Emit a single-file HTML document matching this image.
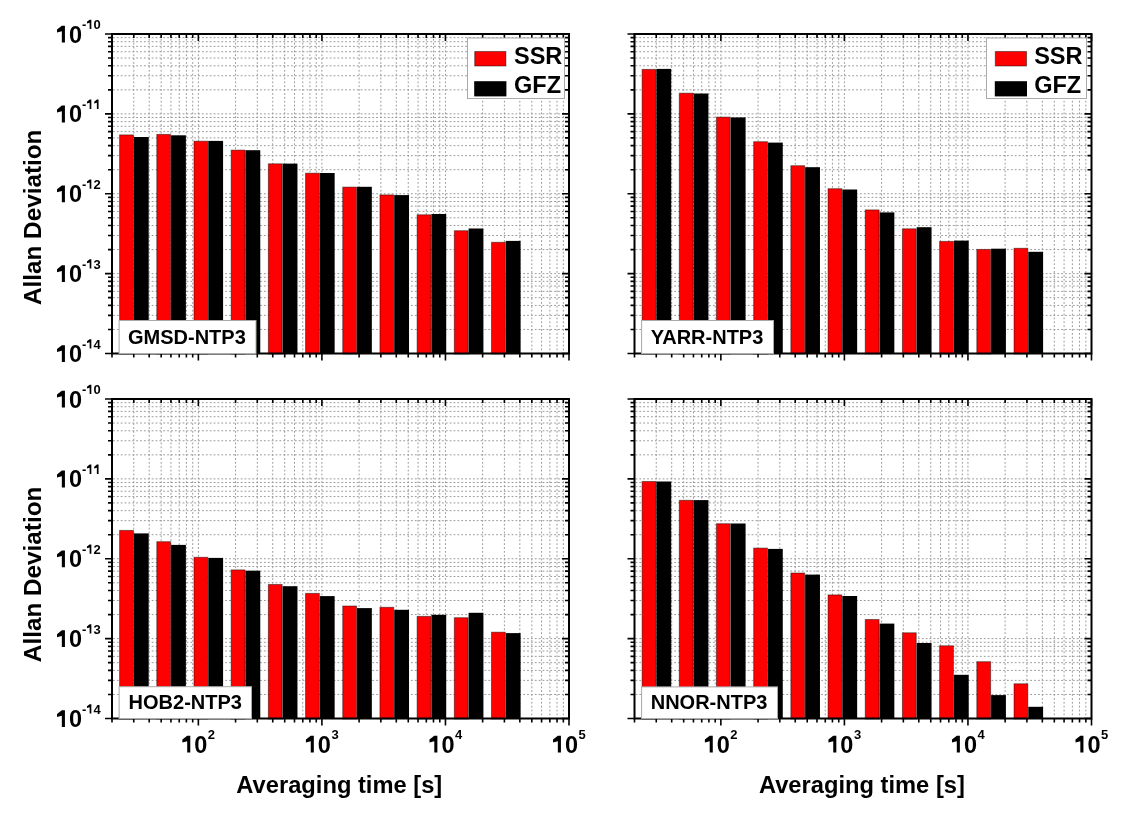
<!DOCTYPE html>
<html><head><meta charset="utf-8"><style>html,body{margin:0;padding:0;background:#fff;}body{width:1124px;height:821px;overflow:hidden;}svg{display:block;}</style></head><body>
<svg width="1124" height="821" viewBox="0 0 1124 821" font-family='"Liberation Sans", sans-serif' font-weight="bold" fill="#000">
<rect width="1124" height="821" fill="#fff"/>
<path d="M133.76 35V352.5M149.19 35V352.5M161.16 35V352.5M170.95 35V352.5M179.22 35V352.5M186.38 35V352.5M192.7 35V352.5M198.36 35V352.5M235.55 35V352.5M257.3 35V352.5M272.74 35V352.5M284.71 35V352.5M294.5 35V352.5M302.77 35V352.5M309.93 35V352.5M316.25 35V352.5M321.9 35V352.5M359.1 35V352.5M380.85 35V352.5M396.29 35V352.5M408.26 35V352.5M418.04 35V352.5M426.31 35V352.5M433.48 35V352.5M439.8 35V352.5M445.45 35V352.5M482.64 35V352.5M504.4 35V352.5M519.84 35V352.5M531.81 35V352.5M541.59 35V352.5M549.86 35V352.5M557.03 35V352.5M563.35 35V352.5" stroke="#999999" stroke-width="1" stroke-dasharray="1.8 2.07" fill="none"/>
<path d="M113 329.46H568M113 315.39H568M113 305.41H568M113 297.67H568M113 291.35H568M113 286H568M113 281.37H568M113 277.28H568M113 273.62H568M113 249.58H568M113 235.51H568M113 225.54H568M113 217.79H568M113 211.47H568M113 206.12H568M113 201.49H568M113 197.4H568M113 193.75H568M113 169.71H568M113 155.64H568M113 145.66H568M113 137.92H568M113 131.6H568M113 126.25H568M113 121.62H568M113 117.53H568M113 113.88H568M113 89.83H568M113 75.76H568M113 65.79H568M113 58.04H568M113 51.72H568M113 46.37H568M113 41.74H568M113 37.65H568" stroke="#999999" stroke-width="1" stroke-dasharray="1.8 2.07" fill="none"/>
<rect x="119.6" y="134.9" width="13.8" height="219.1" fill="#fe0000" stroke="#000" stroke-opacity="0.45" stroke-width="1"/>
<rect x="133.9" y="137" width="14.8" height="216.5" fill="#000"/>
<rect x="156.79" y="134.4" width="13.8" height="219.6" fill="#fe0000" stroke="#000" stroke-opacity="0.45" stroke-width="1"/>
<rect x="171.09" y="135.3" width="14.8" height="218.2" fill="#000"/>
<rect x="193.98" y="141.2" width="13.8" height="212.8" fill="#fe0000" stroke="#000" stroke-opacity="0.45" stroke-width="1"/>
<rect x="208.28" y="140.9" width="14.8" height="212.6" fill="#000"/>
<rect x="231.17" y="150.1" width="13.8" height="203.9" fill="#fe0000" stroke="#000" stroke-opacity="0.45" stroke-width="1"/>
<rect x="245.47" y="150.2" width="14.8" height="203.3" fill="#000"/>
<rect x="268.36" y="163.8" width="13.8" height="190.2" fill="#fe0000" stroke="#000" stroke-opacity="0.45" stroke-width="1"/>
<rect x="282.66" y="163.6" width="14.8" height="189.9" fill="#000"/>
<rect x="305.55" y="173.2" width="13.8" height="180.8" fill="#fe0000" stroke="#000" stroke-opacity="0.45" stroke-width="1"/>
<rect x="319.85" y="173" width="14.8" height="180.5" fill="#000"/>
<rect x="342.74" y="187.1" width="13.8" height="166.9" fill="#fe0000" stroke="#000" stroke-opacity="0.45" stroke-width="1"/>
<rect x="357.04" y="186.8" width="14.8" height="166.7" fill="#000"/>
<rect x="379.93" y="194.9" width="13.8" height="159.1" fill="#fe0000" stroke="#000" stroke-opacity="0.45" stroke-width="1"/>
<rect x="394.23" y="195.1" width="14.8" height="158.4" fill="#000"/>
<rect x="417.12" y="214.8" width="13.8" height="139.2" fill="#fe0000" stroke="#000" stroke-opacity="0.45" stroke-width="1"/>
<rect x="431.42" y="214" width="14.8" height="139.5" fill="#000"/>
<rect x="454.31" y="230.7" width="13.8" height="123.3" fill="#fe0000" stroke="#000" stroke-opacity="0.45" stroke-width="1"/>
<rect x="468.61" y="228.5" width="14.8" height="125" fill="#000"/>
<rect x="491.5" y="242.3" width="13.8" height="111.7" fill="#fe0000" stroke="#000" stroke-opacity="0.45" stroke-width="1"/>
<rect x="505.8" y="240.9" width="14.8" height="112.6" fill="#000"/>
<path d="M105 353.5H112M569 353.5H562M108 329.46H112M569 329.46H565M108 315.39H112M569 315.39H565M108 305.41H112M569 305.41H565M108 297.67H112M569 297.67H565M108 291.35H112M569 291.35H565M108 286H112M569 286H565M108 281.37H112M569 281.37H565M108 277.28H112M569 277.28H565M105 273.62H112M569 273.62H562M108 249.58H112M569 249.58H565M108 235.51H112M569 235.51H565M108 225.54H112M569 225.54H565M108 217.79H112M569 217.79H565M108 211.47H112M569 211.47H565M108 206.12H112M569 206.12H565M108 201.49H112M569 201.49H565M108 197.4H112M569 197.4H565M105 193.75H112M569 193.75H562M108 169.71H112M569 169.71H565M108 155.64H112M569 155.64H565M108 145.66H112M569 145.66H565M108 137.92H112M569 137.92H565M108 131.6H112M569 131.6H565M108 126.25H112M569 126.25H565M108 121.62H112M569 121.62H565M108 117.53H112M569 117.53H565M105 113.88H112M569 113.88H562M108 89.83H112M569 89.83H565M108 75.76H112M569 75.76H565M108 65.79H112M569 65.79H565M108 58.04H112M569 58.04H565M108 51.72H112M569 51.72H565M108 46.37H112M569 46.37H565M108 41.74H112M569 41.74H565M108 37.65H112M569 37.65H565M105 34H112M569 34H562M112 353.5V357.5M112 34V38M133.76 353.5V357.5M133.76 34V38M149.19 353.5V357.5M149.19 34V38M161.16 353.5V357.5M161.16 34V38M170.95 353.5V357.5M170.95 34V38M179.22 353.5V357.5M179.22 34V38M186.38 353.5V357.5M186.38 34V38M192.7 353.5V357.5M192.7 34V38M198.36 353.5V360.5M198.36 34V41M235.55 353.5V357.5M235.55 34V38M257.3 353.5V357.5M257.3 34V38M272.74 353.5V357.5M272.74 34V38M284.71 353.5V357.5M284.71 34V38M294.5 353.5V357.5M294.5 34V38M302.77 353.5V357.5M302.77 34V38M309.93 353.5V357.5M309.93 34V38M316.25 353.5V357.5M316.25 34V38M321.9 353.5V360.5M321.9 34V41M359.1 353.5V357.5M359.1 34V38M380.85 353.5V357.5M380.85 34V38M396.29 353.5V357.5M396.29 34V38M408.26 353.5V357.5M408.26 34V38M418.04 353.5V357.5M418.04 34V38M426.31 353.5V357.5M426.31 34V38M433.48 353.5V357.5M433.48 34V38M439.8 353.5V357.5M439.8 34V38M445.45 353.5V360.5M445.45 34V41M482.64 353.5V357.5M482.64 34V38M504.4 353.5V357.5M504.4 34V38M519.84 353.5V357.5M519.84 34V38M531.81 353.5V357.5M531.81 34V38M541.59 353.5V357.5M541.59 34V38M549.86 353.5V357.5M549.86 34V38M557.03 353.5V357.5M557.03 34V38M563.35 353.5V357.5M563.35 34V38M569 353.5V360.5M569 34V41" stroke="#000" stroke-width="1.6" fill="none"/>
<rect x="112" y="34" width="457" height="319.5" fill="none" stroke="#000" stroke-width="2"/>
<rect x="119.1" y="320.5" width="136.9" height="33" fill="#fff" stroke="#aaa" stroke-width="1"/>
<rect x="467.5" y="38" width="97" height="60.5" fill="#fff" stroke="#aaa" stroke-width="1"/>
<rect x="474.7" y="51.5" width="31.2" height="14.5" fill="#fe0000" stroke="#000" stroke-opacity="0.45" stroke-width="1"/>
<rect x="474.2" y="81.2" width="32.2" height="15.2" fill="#000"/>
<path d="M656.26 35V352.5M671.69 35V352.5M683.66 35V352.5M693.45 35V352.5M701.72 35V352.5M708.88 35V352.5M715.2 35V352.5M720.86 35V352.5M758.05 35V352.5M779.8 35V352.5M795.24 35V352.5M807.21 35V352.5M817 35V352.5M825.27 35V352.5M832.43 35V352.5M838.75 35V352.5M844.4 35V352.5M881.6 35V352.5M903.35 35V352.5M918.79 35V352.5M930.76 35V352.5M940.54 35V352.5M948.81 35V352.5M955.98 35V352.5M962.3 35V352.5M967.95 35V352.5M1005.14 35V352.5M1026.9 35V352.5M1042.34 35V352.5M1054.31 35V352.5M1064.09 35V352.5M1072.36 35V352.5M1079.53 35V352.5M1085.85 35V352.5" stroke="#999999" stroke-width="1" stroke-dasharray="1.8 2.07" fill="none"/>
<path d="M635.5 329.46H1090.5M635.5 315.39H1090.5M635.5 305.41H1090.5M635.5 297.67H1090.5M635.5 291.35H1090.5M635.5 286H1090.5M635.5 281.37H1090.5M635.5 277.28H1090.5M635.5 273.62H1090.5M635.5 249.58H1090.5M635.5 235.51H1090.5M635.5 225.54H1090.5M635.5 217.79H1090.5M635.5 211.47H1090.5M635.5 206.12H1090.5M635.5 201.49H1090.5M635.5 197.4H1090.5M635.5 193.75H1090.5M635.5 169.71H1090.5M635.5 155.64H1090.5M635.5 145.66H1090.5M635.5 137.92H1090.5M635.5 131.6H1090.5M635.5 126.25H1090.5M635.5 121.62H1090.5M635.5 117.53H1090.5M635.5 113.88H1090.5M635.5 89.83H1090.5M635.5 75.76H1090.5M635.5 65.79H1090.5M635.5 58.04H1090.5M635.5 51.72H1090.5M635.5 46.37H1090.5M635.5 41.74H1090.5M635.5 37.65H1090.5" stroke="#999999" stroke-width="1" stroke-dasharray="1.8 2.07" fill="none"/>
<rect x="642.1" y="69.4" width="13.8" height="284.6" fill="#fe0000" stroke="#000" stroke-opacity="0.45" stroke-width="1"/>
<rect x="656.4" y="68.9" width="14.8" height="284.6" fill="#000"/>
<rect x="679.29" y="93.2" width="13.8" height="260.8" fill="#fe0000" stroke="#000" stroke-opacity="0.45" stroke-width="1"/>
<rect x="693.59" y="93.5" width="14.8" height="260" fill="#000"/>
<rect x="716.48" y="117.1" width="13.8" height="236.9" fill="#fe0000" stroke="#000" stroke-opacity="0.45" stroke-width="1"/>
<rect x="730.78" y="117.4" width="14.8" height="236.1" fill="#000"/>
<rect x="753.67" y="141.7" width="13.8" height="212.3" fill="#fe0000" stroke="#000" stroke-opacity="0.45" stroke-width="1"/>
<rect x="767.97" y="142.6" width="14.8" height="210.9" fill="#000"/>
<rect x="790.86" y="165.7" width="13.8" height="188.3" fill="#fe0000" stroke="#000" stroke-opacity="0.45" stroke-width="1"/>
<rect x="805.16" y="167.2" width="14.8" height="186.3" fill="#000"/>
<rect x="828.05" y="188.7" width="13.8" height="165.3" fill="#fe0000" stroke="#000" stroke-opacity="0.45" stroke-width="1"/>
<rect x="842.35" y="189.5" width="14.8" height="164" fill="#000"/>
<rect x="865.24" y="209.9" width="13.8" height="144.1" fill="#fe0000" stroke="#000" stroke-opacity="0.45" stroke-width="1"/>
<rect x="879.54" y="212.4" width="14.8" height="141.1" fill="#000"/>
<rect x="902.43" y="228.8" width="13.8" height="125.2" fill="#fe0000" stroke="#000" stroke-opacity="0.45" stroke-width="1"/>
<rect x="916.73" y="227.2" width="14.8" height="126.3" fill="#000"/>
<rect x="939.62" y="241.4" width="13.8" height="112.6" fill="#fe0000" stroke="#000" stroke-opacity="0.45" stroke-width="1"/>
<rect x="953.92" y="240.6" width="14.8" height="112.9" fill="#000"/>
<rect x="976.81" y="249.4" width="13.8" height="104.6" fill="#fe0000" stroke="#000" stroke-opacity="0.45" stroke-width="1"/>
<rect x="991.11" y="248.7" width="14.8" height="104.8" fill="#000"/>
<rect x="1014" y="248.3" width="13.8" height="105.7" fill="#fe0000" stroke="#000" stroke-opacity="0.45" stroke-width="1"/>
<rect x="1028.3" y="251.8" width="14.8" height="101.7" fill="#000"/>
<path d="M627.5 353.5H634.5M1091.5 353.5H1084.5M630.5 329.46H634.5M1091.5 329.46H1087.5M630.5 315.39H634.5M1091.5 315.39H1087.5M630.5 305.41H634.5M1091.5 305.41H1087.5M630.5 297.67H634.5M1091.5 297.67H1087.5M630.5 291.35H634.5M1091.5 291.35H1087.5M630.5 286H634.5M1091.5 286H1087.5M630.5 281.37H634.5M1091.5 281.37H1087.5M630.5 277.28H634.5M1091.5 277.28H1087.5M627.5 273.62H634.5M1091.5 273.62H1084.5M630.5 249.58H634.5M1091.5 249.58H1087.5M630.5 235.51H634.5M1091.5 235.51H1087.5M630.5 225.54H634.5M1091.5 225.54H1087.5M630.5 217.79H634.5M1091.5 217.79H1087.5M630.5 211.47H634.5M1091.5 211.47H1087.5M630.5 206.12H634.5M1091.5 206.12H1087.5M630.5 201.49H634.5M1091.5 201.49H1087.5M630.5 197.4H634.5M1091.5 197.4H1087.5M627.5 193.75H634.5M1091.5 193.75H1084.5M630.5 169.71H634.5M1091.5 169.71H1087.5M630.5 155.64H634.5M1091.5 155.64H1087.5M630.5 145.66H634.5M1091.5 145.66H1087.5M630.5 137.92H634.5M1091.5 137.92H1087.5M630.5 131.6H634.5M1091.5 131.6H1087.5M630.5 126.25H634.5M1091.5 126.25H1087.5M630.5 121.62H634.5M1091.5 121.62H1087.5M630.5 117.53H634.5M1091.5 117.53H1087.5M627.5 113.88H634.5M1091.5 113.88H1084.5M630.5 89.83H634.5M1091.5 89.83H1087.5M630.5 75.76H634.5M1091.5 75.76H1087.5M630.5 65.79H634.5M1091.5 65.79H1087.5M630.5 58.04H634.5M1091.5 58.04H1087.5M630.5 51.72H634.5M1091.5 51.72H1087.5M630.5 46.37H634.5M1091.5 46.37H1087.5M630.5 41.74H634.5M1091.5 41.74H1087.5M630.5 37.65H634.5M1091.5 37.65H1087.5M627.5 34H634.5M1091.5 34H1084.5M634.5 353.5V357.5M634.5 34V38M656.26 353.5V357.5M656.26 34V38M671.69 353.5V357.5M671.69 34V38M683.66 353.5V357.5M683.66 34V38M693.45 353.5V357.5M693.45 34V38M701.72 353.5V357.5M701.72 34V38M708.88 353.5V357.5M708.88 34V38M715.2 353.5V357.5M715.2 34V38M720.86 353.5V360.5M720.86 34V41M758.05 353.5V357.5M758.05 34V38M779.8 353.5V357.5M779.8 34V38M795.24 353.5V357.5M795.24 34V38M807.21 353.5V357.5M807.21 34V38M817 353.5V357.5M817 34V38M825.27 353.5V357.5M825.27 34V38M832.43 353.5V357.5M832.43 34V38M838.75 353.5V357.5M838.75 34V38M844.4 353.5V360.5M844.4 34V41M881.6 353.5V357.5M881.6 34V38M903.35 353.5V357.5M903.35 34V38M918.79 353.5V357.5M918.79 34V38M930.76 353.5V357.5M930.76 34V38M940.54 353.5V357.5M940.54 34V38M948.81 353.5V357.5M948.81 34V38M955.98 353.5V357.5M955.98 34V38M962.3 353.5V357.5M962.3 34V38M967.95 353.5V360.5M967.95 34V41M1005.14 353.5V357.5M1005.14 34V38M1026.9 353.5V357.5M1026.9 34V38M1042.34 353.5V357.5M1042.34 34V38M1054.31 353.5V357.5M1054.31 34V38M1064.09 353.5V357.5M1064.09 34V38M1072.36 353.5V357.5M1072.36 34V38M1079.53 353.5V357.5M1079.53 34V38M1085.85 353.5V357.5M1085.85 34V38M1091.5 353.5V360.5M1091.5 34V41" stroke="#000" stroke-width="1.6" fill="none"/>
<rect x="634.5" y="34" width="457" height="319.5" fill="none" stroke="#000" stroke-width="2"/>
<rect x="641.6" y="320.5" width="131.9" height="33" fill="#fff" stroke="#aaa" stroke-width="1"/>
<rect x="986.5" y="38" width="100" height="60.5" fill="#fff" stroke="#aaa" stroke-width="1"/>
<rect x="995.3" y="51.5" width="31.2" height="14.5" fill="#fe0000" stroke="#000" stroke-opacity="0.45" stroke-width="1"/>
<rect x="994.8" y="81.2" width="32.2" height="15.2" fill="#000"/>
<path d="M133.76 400V717.5M149.19 400V717.5M161.16 400V717.5M170.95 400V717.5M179.22 400V717.5M186.38 400V717.5M192.7 400V717.5M198.36 400V717.5M235.55 400V717.5M257.3 400V717.5M272.74 400V717.5M284.71 400V717.5M294.5 400V717.5M302.77 400V717.5M309.93 400V717.5M316.25 400V717.5M321.9 400V717.5M359.1 400V717.5M380.85 400V717.5M396.29 400V717.5M408.26 400V717.5M418.04 400V717.5M426.31 400V717.5M433.48 400V717.5M439.8 400V717.5M445.45 400V717.5M482.64 400V717.5M504.4 400V717.5M519.84 400V717.5M531.81 400V717.5M541.59 400V717.5M549.86 400V717.5M557.03 400V717.5M563.35 400V717.5" stroke="#999999" stroke-width="1" stroke-dasharray="1.8 2.07" fill="none"/>
<path d="M113 694.46H568M113 680.39H568M113 670.41H568M113 662.67H568M113 656.35H568M113 651H568M113 646.37H568M113 642.28H568M113 638.62H568M113 614.58H568M113 600.51H568M113 590.54H568M113 582.79H568M113 576.47H568M113 571.12H568M113 566.49H568M113 562.4H568M113 558.75H568M113 534.71H568M113 520.64H568M113 510.66H568M113 502.92H568M113 496.6H568M113 491.25H568M113 486.62H568M113 482.53H568M113 478.88H568M113 454.83H568M113 440.76H568M113 430.79H568M113 423.04H568M113 416.72H568M113 411.37H568M113 406.74H568M113 402.65H568" stroke="#999999" stroke-width="1" stroke-dasharray="1.8 2.07" fill="none"/>
<rect x="119.6" y="530.4" width="13.8" height="188.6" fill="#fe0000" stroke="#000" stroke-opacity="0.45" stroke-width="1"/>
<rect x="133.9" y="533.4" width="14.8" height="185.1" fill="#000"/>
<rect x="156.79" y="541.7" width="13.8" height="177.3" fill="#fe0000" stroke="#000" stroke-opacity="0.45" stroke-width="1"/>
<rect x="171.09" y="544.9" width="14.8" height="173.6" fill="#000"/>
<rect x="193.98" y="557.3" width="13.8" height="161.7" fill="#fe0000" stroke="#000" stroke-opacity="0.45" stroke-width="1"/>
<rect x="208.28" y="557.9" width="14.8" height="160.6" fill="#000"/>
<rect x="231.17" y="569.9" width="13.8" height="149.1" fill="#fe0000" stroke="#000" stroke-opacity="0.45" stroke-width="1"/>
<rect x="245.47" y="570.7" width="14.8" height="147.8" fill="#000"/>
<rect x="268.36" y="584.5" width="13.8" height="134.5" fill="#fe0000" stroke="#000" stroke-opacity="0.45" stroke-width="1"/>
<rect x="282.66" y="586.2" width="14.8" height="132.3" fill="#000"/>
<rect x="305.55" y="593.4" width="13.8" height="125.6" fill="#fe0000" stroke="#000" stroke-opacity="0.45" stroke-width="1"/>
<rect x="319.85" y="596.1" width="14.8" height="122.4" fill="#000"/>
<rect x="342.74" y="606" width="13.8" height="113" fill="#fe0000" stroke="#000" stroke-opacity="0.45" stroke-width="1"/>
<rect x="357.04" y="608.1" width="14.8" height="110.4" fill="#000"/>
<rect x="379.93" y="607.3" width="13.8" height="111.7" fill="#fe0000" stroke="#000" stroke-opacity="0.45" stroke-width="1"/>
<rect x="394.23" y="609.8" width="14.8" height="108.7" fill="#000"/>
<rect x="417.12" y="616.4" width="13.8" height="102.6" fill="#fe0000" stroke="#000" stroke-opacity="0.45" stroke-width="1"/>
<rect x="431.42" y="614.8" width="14.8" height="103.7" fill="#000"/>
<rect x="454.31" y="617.7" width="13.8" height="101.3" fill="#fe0000" stroke="#000" stroke-opacity="0.45" stroke-width="1"/>
<rect x="468.61" y="612.8" width="14.8" height="105.7" fill="#000"/>
<rect x="491.5" y="632.2" width="13.8" height="86.8" fill="#fe0000" stroke="#000" stroke-opacity="0.45" stroke-width="1"/>
<rect x="505.8" y="633.1" width="14.8" height="85.4" fill="#000"/>
<path d="M105 718.5H112M569 718.5H562M108 694.46H112M569 694.46H565M108 680.39H112M569 680.39H565M108 670.41H112M569 670.41H565M108 662.67H112M569 662.67H565M108 656.35H112M569 656.35H565M108 651H112M569 651H565M108 646.37H112M569 646.37H565M108 642.28H112M569 642.28H565M105 638.62H112M569 638.62H562M108 614.58H112M569 614.58H565M108 600.51H112M569 600.51H565M108 590.54H112M569 590.54H565M108 582.79H112M569 582.79H565M108 576.47H112M569 576.47H565M108 571.12H112M569 571.12H565M108 566.49H112M569 566.49H565M108 562.4H112M569 562.4H565M105 558.75H112M569 558.75H562M108 534.71H112M569 534.71H565M108 520.64H112M569 520.64H565M108 510.66H112M569 510.66H565M108 502.92H112M569 502.92H565M108 496.6H112M569 496.6H565M108 491.25H112M569 491.25H565M108 486.62H112M569 486.62H565M108 482.53H112M569 482.53H565M105 478.88H112M569 478.88H562M108 454.83H112M569 454.83H565M108 440.76H112M569 440.76H565M108 430.79H112M569 430.79H565M108 423.04H112M569 423.04H565M108 416.72H112M569 416.72H565M108 411.37H112M569 411.37H565M108 406.74H112M569 406.74H565M108 402.65H112M569 402.65H565M105 399H112M569 399H562M112 718.5V722.5M112 399V403M133.76 718.5V722.5M133.76 399V403M149.19 718.5V722.5M149.19 399V403M161.16 718.5V722.5M161.16 399V403M170.95 718.5V722.5M170.95 399V403M179.22 718.5V722.5M179.22 399V403M186.38 718.5V722.5M186.38 399V403M192.7 718.5V722.5M192.7 399V403M198.36 718.5V725.5M198.36 399V406M235.55 718.5V722.5M235.55 399V403M257.3 718.5V722.5M257.3 399V403M272.74 718.5V722.5M272.74 399V403M284.71 718.5V722.5M284.71 399V403M294.5 718.5V722.5M294.5 399V403M302.77 718.5V722.5M302.77 399V403M309.93 718.5V722.5M309.93 399V403M316.25 718.5V722.5M316.25 399V403M321.9 718.5V725.5M321.9 399V406M359.1 718.5V722.5M359.1 399V403M380.85 718.5V722.5M380.85 399V403M396.29 718.5V722.5M396.29 399V403M408.26 718.5V722.5M408.26 399V403M418.04 718.5V722.5M418.04 399V403M426.31 718.5V722.5M426.31 399V403M433.48 718.5V722.5M433.48 399V403M439.8 718.5V722.5M439.8 399V403M445.45 718.5V725.5M445.45 399V406M482.64 718.5V722.5M482.64 399V403M504.4 718.5V722.5M504.4 399V403M519.84 718.5V722.5M519.84 399V403M531.81 718.5V722.5M531.81 399V403M541.59 718.5V722.5M541.59 399V403M549.86 718.5V722.5M549.86 399V403M557.03 718.5V722.5M557.03 399V403M563.35 718.5V722.5M563.35 399V403M569 718.5V725.5M569 399V406" stroke="#000" stroke-width="1.6" fill="none"/>
<rect x="112" y="399" width="457" height="319.5" fill="none" stroke="#000" stroke-width="2"/>
<rect x="119.1" y="686.7" width="132.4" height="31.8" fill="#fff" stroke="#aaa" stroke-width="1"/>
<path d="M656.26 400V717.5M671.69 400V717.5M683.66 400V717.5M693.45 400V717.5M701.72 400V717.5M708.88 400V717.5M715.2 400V717.5M720.86 400V717.5M758.05 400V717.5M779.8 400V717.5M795.24 400V717.5M807.21 400V717.5M817 400V717.5M825.27 400V717.5M832.43 400V717.5M838.75 400V717.5M844.4 400V717.5M881.6 400V717.5M903.35 400V717.5M918.79 400V717.5M930.76 400V717.5M940.54 400V717.5M948.81 400V717.5M955.98 400V717.5M962.3 400V717.5M967.95 400V717.5M1005.14 400V717.5M1026.9 400V717.5M1042.34 400V717.5M1054.31 400V717.5M1064.09 400V717.5M1072.36 400V717.5M1079.53 400V717.5M1085.85 400V717.5" stroke="#999999" stroke-width="1" stroke-dasharray="1.8 2.07" fill="none"/>
<path d="M635.5 694.46H1090.5M635.5 680.39H1090.5M635.5 670.41H1090.5M635.5 662.67H1090.5M635.5 656.35H1090.5M635.5 651H1090.5M635.5 646.37H1090.5M635.5 642.28H1090.5M635.5 638.62H1090.5M635.5 614.58H1090.5M635.5 600.51H1090.5M635.5 590.54H1090.5M635.5 582.79H1090.5M635.5 576.47H1090.5M635.5 571.12H1090.5M635.5 566.49H1090.5M635.5 562.4H1090.5M635.5 558.75H1090.5M635.5 534.71H1090.5M635.5 520.64H1090.5M635.5 510.66H1090.5M635.5 502.92H1090.5M635.5 496.6H1090.5M635.5 491.25H1090.5M635.5 486.62H1090.5M635.5 482.53H1090.5M635.5 478.88H1090.5M635.5 454.83H1090.5M635.5 440.76H1090.5M635.5 430.79H1090.5M635.5 423.04H1090.5M635.5 416.72H1090.5M635.5 411.37H1090.5M635.5 406.74H1090.5M635.5 402.65H1090.5" stroke="#999999" stroke-width="1" stroke-dasharray="1.8 2.07" fill="none"/>
<rect x="642.1" y="481.5" width="13.8" height="237.5" fill="#fe0000" stroke="#000" stroke-opacity="0.45" stroke-width="1"/>
<rect x="656.4" y="481.5" width="14.8" height="237" fill="#000"/>
<rect x="679.29" y="500.3" width="13.8" height="218.7" fill="#fe0000" stroke="#000" stroke-opacity="0.45" stroke-width="1"/>
<rect x="693.59" y="500.1" width="14.8" height="218.4" fill="#000"/>
<rect x="716.48" y="523.7" width="13.8" height="195.3" fill="#fe0000" stroke="#000" stroke-opacity="0.45" stroke-width="1"/>
<rect x="730.78" y="523.5" width="14.8" height="195" fill="#000"/>
<rect x="753.67" y="548.1" width="13.8" height="170.9" fill="#fe0000" stroke="#000" stroke-opacity="0.45" stroke-width="1"/>
<rect x="767.97" y="548.9" width="14.8" height="169.6" fill="#000"/>
<rect x="790.86" y="573" width="13.8" height="146" fill="#fe0000" stroke="#000" stroke-opacity="0.45" stroke-width="1"/>
<rect x="805.16" y="574.6" width="14.8" height="143.9" fill="#000"/>
<rect x="828.05" y="594.9" width="13.8" height="124.1" fill="#fe0000" stroke="#000" stroke-opacity="0.45" stroke-width="1"/>
<rect x="842.35" y="596" width="14.8" height="122.5" fill="#000"/>
<rect x="865.24" y="619.5" width="13.8" height="99.5" fill="#fe0000" stroke="#000" stroke-opacity="0.45" stroke-width="1"/>
<rect x="879.54" y="623.6" width="14.8" height="94.9" fill="#000"/>
<rect x="902.43" y="632.8" width="13.8" height="86.2" fill="#fe0000" stroke="#000" stroke-opacity="0.45" stroke-width="1"/>
<rect x="916.73" y="643" width="14.8" height="75.5" fill="#000"/>
<rect x="939.62" y="645.8" width="13.8" height="73.2" fill="#fe0000" stroke="#000" stroke-opacity="0.45" stroke-width="1"/>
<rect x="953.92" y="674.8" width="14.8" height="43.7" fill="#000"/>
<rect x="976.81" y="661.7" width="13.8" height="57.3" fill="#fe0000" stroke="#000" stroke-opacity="0.45" stroke-width="1"/>
<rect x="991.11" y="695.1" width="14.8" height="23.4" fill="#000"/>
<rect x="1014" y="683.8" width="13.8" height="35.2" fill="#fe0000" stroke="#000" stroke-opacity="0.45" stroke-width="1"/>
<rect x="1028.3" y="706.8" width="14.8" height="11.7" fill="#000"/>
<path d="M627.5 718.5H634.5M1091.5 718.5H1084.5M630.5 694.46H634.5M1091.5 694.46H1087.5M630.5 680.39H634.5M1091.5 680.39H1087.5M630.5 670.41H634.5M1091.5 670.41H1087.5M630.5 662.67H634.5M1091.5 662.67H1087.5M630.5 656.35H634.5M1091.5 656.35H1087.5M630.5 651H634.5M1091.5 651H1087.5M630.5 646.37H634.5M1091.5 646.37H1087.5M630.5 642.28H634.5M1091.5 642.28H1087.5M627.5 638.62H634.5M1091.5 638.62H1084.5M630.5 614.58H634.5M1091.5 614.58H1087.5M630.5 600.51H634.5M1091.5 600.51H1087.5M630.5 590.54H634.5M1091.5 590.54H1087.5M630.5 582.79H634.5M1091.5 582.79H1087.5M630.5 576.47H634.5M1091.5 576.47H1087.5M630.5 571.12H634.5M1091.5 571.12H1087.5M630.5 566.49H634.5M1091.5 566.49H1087.5M630.5 562.4H634.5M1091.5 562.4H1087.5M627.5 558.75H634.5M1091.5 558.75H1084.5M630.5 534.71H634.5M1091.5 534.71H1087.5M630.5 520.64H634.5M1091.5 520.64H1087.5M630.5 510.66H634.5M1091.5 510.66H1087.5M630.5 502.92H634.5M1091.5 502.92H1087.5M630.5 496.6H634.5M1091.5 496.6H1087.5M630.5 491.25H634.5M1091.5 491.25H1087.5M630.5 486.62H634.5M1091.5 486.62H1087.5M630.5 482.53H634.5M1091.5 482.53H1087.5M627.5 478.88H634.5M1091.5 478.88H1084.5M630.5 454.83H634.5M1091.5 454.83H1087.5M630.5 440.76H634.5M1091.5 440.76H1087.5M630.5 430.79H634.5M1091.5 430.79H1087.5M630.5 423.04H634.5M1091.5 423.04H1087.5M630.5 416.72H634.5M1091.5 416.72H1087.5M630.5 411.37H634.5M1091.5 411.37H1087.5M630.5 406.74H634.5M1091.5 406.74H1087.5M630.5 402.65H634.5M1091.5 402.65H1087.5M627.5 399H634.5M1091.5 399H1084.5M634.5 718.5V722.5M634.5 399V403M656.26 718.5V722.5M656.26 399V403M671.69 718.5V722.5M671.69 399V403M683.66 718.5V722.5M683.66 399V403M693.45 718.5V722.5M693.45 399V403M701.72 718.5V722.5M701.72 399V403M708.88 718.5V722.5M708.88 399V403M715.2 718.5V722.5M715.2 399V403M720.86 718.5V725.5M720.86 399V406M758.05 718.5V722.5M758.05 399V403M779.8 718.5V722.5M779.8 399V403M795.24 718.5V722.5M795.24 399V403M807.21 718.5V722.5M807.21 399V403M817 718.5V722.5M817 399V403M825.27 718.5V722.5M825.27 399V403M832.43 718.5V722.5M832.43 399V403M838.75 718.5V722.5M838.75 399V403M844.4 718.5V725.5M844.4 399V406M881.6 718.5V722.5M881.6 399V403M903.35 718.5V722.5M903.35 399V403M918.79 718.5V722.5M918.79 399V403M930.76 718.5V722.5M930.76 399V403M940.54 718.5V722.5M940.54 399V403M948.81 718.5V722.5M948.81 399V403M955.98 718.5V722.5M955.98 399V403M962.3 718.5V722.5M962.3 399V403M967.95 718.5V725.5M967.95 399V406M1005.14 718.5V722.5M1005.14 399V403M1026.9 718.5V722.5M1026.9 399V403M1042.34 718.5V722.5M1042.34 399V403M1054.31 718.5V722.5M1054.31 399V403M1064.09 718.5V722.5M1064.09 399V403M1072.36 718.5V722.5M1072.36 399V403M1079.53 718.5V722.5M1079.53 399V403M1085.85 718.5V722.5M1085.85 399V403M1091.5 718.5V725.5M1091.5 399V406" stroke="#000" stroke-width="1.6" fill="none"/>
<rect x="634.5" y="399" width="457" height="319.5" fill="none" stroke="#000" stroke-width="2"/>
<rect x="641.6" y="686.9" width="135.9" height="31.6" fill="#fff" stroke="#aaa" stroke-width="1"/>
<g style="filter:grayscale(1)">
<path d="M64.93 42.5L61.84 42.5L61.84 31.35L57.02 32.6L57.02 29.6L61.84 25.68L64.93 25.68Z"/>
<text x="68.93" y="42.5" font-size="23.5">0</text>
<text x="82" y="29" font-size="13">-</text>
<path d="M91.34 29L89.64 29L89.64 22.83L86.97 23.52L86.97 21.87L89.64 19.69L91.34 19.69Z"/>
<text x="93.56" y="29" font-size="13">0</text>
<path d="M64.93 122.38L61.84 122.38L61.84 111.22L57.02 112.47L57.02 109.48L61.84 105.55L64.93 105.55Z"/>
<text x="68.93" y="122.38" font-size="23.5">0</text>
<text x="82" y="108.88" font-size="13">-</text>
<path d="M91.34 108.88L89.64 108.88L89.64 102.71L86.97 103.4L86.97 101.74L89.64 99.57L91.34 99.57Z"/>
<path d="M98.57 108.88L96.87 108.88L96.87 102.71L94.2 103.4L94.2 101.74L96.87 99.57L98.57 99.57Z"/>
<path d="M64.93 202.25L61.84 202.25L61.84 191.1L57.02 192.35L57.02 189.35L61.84 185.43L64.93 185.43Z"/>
<text x="68.93" y="202.25" font-size="23.5">0</text>
<text x="82" y="188.75" font-size="13">-</text>
<path d="M91.34 188.75L89.64 188.75L89.64 182.58L86.97 183.27L86.97 181.62L89.64 179.44L91.34 179.44Z"/>
<text x="93.56" y="188.75" font-size="13">2</text>
<path d="M64.93 282.12L61.84 282.12L61.84 270.97L57.02 272.22L57.02 269.23L61.84 265.3L64.93 265.3Z"/>
<text x="68.93" y="282.12" font-size="23.5">0</text>
<text x="82" y="268.62" font-size="13">-</text>
<path d="M91.34 268.62L89.64 268.62L89.64 262.46L86.97 263.15L86.97 261.49L89.64 259.32L91.34 259.32Z"/>
<text x="93.56" y="268.62" font-size="13">3</text>
<path d="M64.93 362L61.84 362L61.84 350.85L57.02 352.1L57.02 349.1L61.84 345.18L64.93 345.18Z"/>
<text x="68.93" y="362" font-size="23.5">0</text>
<text x="82" y="348.5" font-size="13">-</text>
<path d="M91.34 348.5L89.64 348.5L89.64 342.33L86.97 343.02L86.97 341.37L89.64 339.19L91.34 339.19Z"/>
<text x="93.56" y="348.5" font-size="13">4</text>
<text x="128" y="344" font-size="20">GMSD-NTP3</text>
<text x="514" y="63.9" font-size="23.5">SSR</text>
<text x="514" y="93.1" font-size="23.5">GFZ</text>
<text x="650.7" y="344" font-size="20">YARR-NTP3</text>
<text x="1034.2" y="63.9" font-size="23.5">SSR</text>
<text x="1034.2" y="93.1" font-size="23.5">GFZ</text>
<path d="M64.93 407.5L61.84 407.5L61.84 396.35L57.02 397.6L57.02 394.6L61.84 390.68L64.93 390.68Z"/>
<text x="68.93" y="407.5" font-size="23.5">0</text>
<text x="82" y="394" font-size="13">-</text>
<path d="M91.34 394L89.64 394L89.64 387.83L86.97 388.52L86.97 386.87L89.64 384.69L91.34 384.69Z"/>
<text x="93.56" y="394" font-size="13">0</text>
<path d="M64.93 487.38L61.84 487.38L61.84 476.22L57.02 477.47L57.02 474.48L61.84 470.55L64.93 470.55Z"/>
<text x="68.93" y="487.38" font-size="23.5">0</text>
<text x="82" y="473.88" font-size="13">-</text>
<path d="M91.34 473.88L89.64 473.88L89.64 467.71L86.97 468.4L86.97 466.74L89.64 464.57L91.34 464.57Z"/>
<path d="M98.57 473.88L96.87 473.88L96.87 467.71L94.2 468.4L94.2 466.74L96.87 464.57L98.57 464.57Z"/>
<path d="M64.93 567.25L61.84 567.25L61.84 556.1L57.02 557.35L57.02 554.35L61.84 550.43L64.93 550.43Z"/>
<text x="68.93" y="567.25" font-size="23.5">0</text>
<text x="82" y="553.75" font-size="13">-</text>
<path d="M91.34 553.75L89.64 553.75L89.64 547.58L86.97 548.27L86.97 546.62L89.64 544.44L91.34 544.44Z"/>
<text x="93.56" y="553.75" font-size="13">2</text>
<path d="M64.93 647.12L61.84 647.12L61.84 635.97L57.02 637.22L57.02 634.23L61.84 630.3L64.93 630.3Z"/>
<text x="68.93" y="647.12" font-size="23.5">0</text>
<text x="82" y="633.62" font-size="13">-</text>
<path d="M91.34 633.62L89.64 633.62L89.64 627.46L86.97 628.15L86.97 626.49L89.64 624.32L91.34 624.32Z"/>
<text x="93.56" y="633.62" font-size="13">3</text>
<path d="M64.93 727L61.84 727L61.84 715.85L57.02 717.1L57.02 714.1L61.84 710.18L64.93 710.18Z"/>
<text x="68.93" y="727" font-size="23.5">0</text>
<text x="82" y="713.5" font-size="13">-</text>
<path d="M91.34 713.5L89.64 713.5L89.64 707.33L86.97 708.02L86.97 706.37L89.64 704.19L91.34 704.19Z"/>
<text x="93.56" y="713.5" font-size="13">4</text>
<path d="M190.28 752.5L187.2 752.5L187.2 741.35L182.38 742.6L182.38 739.6L187.2 735.68L190.28 735.68Z"/>
<text x="194.29" y="752.5" font-size="23.5">0</text>
<text x="207.86" y="738.5" font-size="13">2</text>
<path d="M313.83 752.5L310.74 752.5L310.74 741.35L305.92 742.6L305.92 739.6L310.74 735.68L313.83 735.68Z"/>
<text x="317.83" y="752.5" font-size="23.5">0</text>
<text x="331.4" y="738.5" font-size="13">3</text>
<path d="M437.38 752.5L434.29 752.5L434.29 741.35L429.47 742.6L429.47 739.6L434.29 735.68L437.38 735.68Z"/>
<text x="441.38" y="752.5" font-size="23.5">0</text>
<text x="454.95" y="738.5" font-size="13">4</text>
<path d="M560.93 752.5L557.84 752.5L557.84 741.35L553.02 742.6L553.02 739.6L557.84 735.68L560.93 735.68Z"/>
<text x="564.93" y="752.5" font-size="23.5">0</text>
<text x="578.5" y="738.5" font-size="13">5</text>
<text x="128.6" y="709.4" font-size="20">HOB2-NTP3</text>
<path d="M712.78 752.5L709.7 752.5L709.7 741.35L704.88 742.6L704.88 739.6L709.7 735.68L712.78 735.68Z"/>
<text x="716.79" y="752.5" font-size="23.5">0</text>
<text x="730.36" y="738.5" font-size="13">2</text>
<path d="M836.33 752.5L833.24 752.5L833.24 741.35L828.42 742.6L828.42 739.6L833.24 735.68L836.33 735.68Z"/>
<text x="840.33" y="752.5" font-size="23.5">0</text>
<text x="853.9" y="738.5" font-size="13">3</text>
<path d="M959.88 752.5L956.79 752.5L956.79 741.35L951.97 742.6L951.97 739.6L956.79 735.68L959.88 735.68Z"/>
<text x="963.88" y="752.5" font-size="23.5">0</text>
<text x="977.45" y="738.5" font-size="13">4</text>
<path d="M1083.43 752.5L1080.34 752.5L1080.34 741.35L1075.52 742.6L1075.52 739.6L1080.34 735.68L1083.43 735.68Z"/>
<text x="1087.43" y="752.5" font-size="23.5">0</text>
<text x="1101" y="738.5" font-size="13">5</text>
<text x="650.7" y="709.4" font-size="20">NNOR-NTP3</text>
<text transform="translate(41.3 217.3) rotate(-90)" font-size="24.3" text-anchor="middle">Allan Deviation</text>
<text transform="translate(41.3 574.4) rotate(-90)" font-size="24.3" text-anchor="middle">Allan Deviation</text>
<text transform="translate(339.3 793) scale(0.976 1)" font-size="24.3" text-anchor="middle">Averaging time [s]</text>
<text transform="translate(861.9 793) scale(0.976 1)" font-size="24.3" text-anchor="middle">Averaging time [s]</text>
</g>
</svg>
</body></html>
